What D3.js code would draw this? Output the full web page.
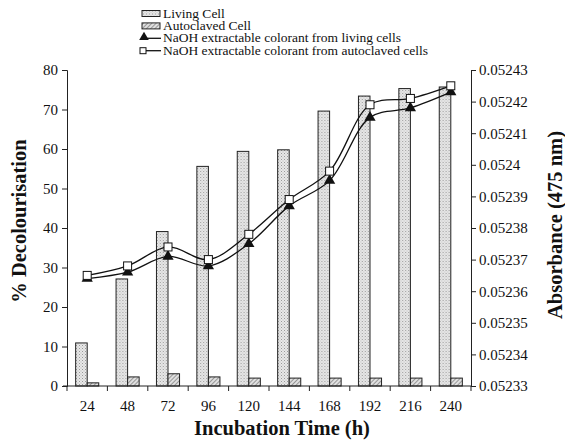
<!DOCTYPE html>
<html>
<head>
<meta charset="utf-8">
<script src="https://cdn.jsdelivr.net/npm/d3@7"></script>
<style>
  body { margin: 0; background: #fff; }
  text { font-family: "Liberation Serif", "DejaVu Serif", serif; fill: #111; }
</style>
</head>
<body>
<div id="chart"></div>
<script>
// chart data
var hours = ["24", "48", "72", "96", "120", "144", "168", "192", "216", "240"];
var livingCell = [10.9, 27.1, 39.1, 55.6, 59.4, 59.8, 69.6, 73.4, 75.3, 75.7];
var autoclavedCell = [0.8, 2.3, 3.1, 2.3, 2.0, 2.0, 2.0, 2.0, 2.0, 2.0];
var naohLiving = [0.052364, 0.052366, 0.052371, 0.052368, 0.052375, 0.052387, 0.052395, 0.052415, 0.052418, 0.052423];
var naohAutoclaved = [0.052365, 0.052368, 0.052374, 0.05237, 0.052378, 0.052389, 0.052398, 0.052419, 0.052421, 0.052425];
var leftTicks = [0, 10, 20, 30, 40, 50, 60, 70, 80];
var rightTicks = [0.05233, 0.05234, 0.05235, 0.05236, 0.05237, 0.05238, 0.05239, 0.0524, 0.05241, 0.05242, 0.05243];

var width = 565, height = 441;
// plot box (window.top is reserved, so no "top" here)
var plotLeft = 67, plotRight = 471, plotTop = 70, plotBottom = 386;

var svg = d3.select("#chart").append("svg")
  .attr("width", width)
  .attr("height", height);

// fill patterns for the bars
var defs = svg.append("defs");
var dots = defs.append("pattern")
  .attr("id", "dots")
  .attr("patternUnits", "userSpaceOnUse")
  .attr("width", 3).attr("height", 3);
dots.append("rect").attr("width", 3).attr("height", 3).attr("fill", "#e8e8e8");
dots.append("rect").attr("width", 1).attr("height", 1).attr("fill", "#9a9a9a");
dots.append("rect").attr("x", 1.5).attr("y", 1.5).attr("width", 1).attr("height", 1).attr("fill", "#b5b5b5");

var hatch = defs.append("pattern")
  .attr("id", "hatch")
  .attr("patternUnits", "userSpaceOnUse")
  .attr("width", 3).attr("height", 3)
  .attr("patternTransform", "rotate(45)");
hatch.append("rect").attr("width", 3).attr("height", 3).attr("fill", "#e0e0e0");
hatch.append("line").attr("x1", 0).attr("y1", 0).attr("x2", 0).attr("y2", 3)
  .attr("stroke", "#666").attr("stroke-width", 1.2);

// scales
var x = d3.scaleBand().domain(hours).range([plotLeft, plotRight]);
var xInner = d3.scaleBand().domain(["living", "auto"])
  .range([0, x.bandwidth()]).paddingInner(0).paddingOuter(0.75);
var yLeft = d3.scaleLinear().domain([0, 80]).range([plotBottom, plotTop]);
var yRight = d3.scaleLinear().domain([0.05233, 0.05243]).range([plotBottom, plotTop]);

// bars
var groups = svg.append("g").selectAll("g")
  .data(hours)
  .enter().append("g")
  .attr("transform", function(d) { return "translate(" + x(d) + ",0)"; });

groups.append("rect")
  .attr("x", xInner("living"))
  .attr("width", xInner.bandwidth())
  .attr("y", function(d, i) { return yLeft(livingCell[i]); })
  .attr("height", function(d, i) { return plotBottom - yLeft(livingCell[i]); })
  .attr("fill", "url(#dots)")
  .attr("stroke", "#222").attr("stroke-width", 1);

groups.append("rect")
  .attr("x", xInner("auto"))
  .attr("width", xInner.bandwidth())
  .attr("y", function(d, i) { return yLeft(autoclavedCell[i]); })
  .attr("height", function(d, i) { return plotBottom - yLeft(autoclavedCell[i]); })
  .attr("fill", "url(#hatch)")
  .attr("stroke", "#222").attr("stroke-width", 1);

// axes
var xAxis = d3.axisBottom(x).tickSize(0).tickPadding(14);
var gx = svg.append("g")
  .attr("transform", "translate(0," + plotBottom + ")")
  .call(xAxis);
gx.select(".domain").attr("stroke", "#222").attr("d", "M" + (plotLeft - 4) + ",0H" + plotRight);
gx.selectAll(".tick text").attr("font-size", 15);
// tick marks sit between the categories
gx.selectAll(".sep")
  .data(d3.range(hours.length + 1))
  .enter().append("line")
  .attr("x1", function(i) { return plotLeft + i * x.step(); })
  .attr("x2", function(i) { return plotLeft + i * x.step(); })
  .attr("y1", 0).attr("y2", 5)
  .attr("stroke", "#222");

var gl = svg.append("g")
  .attr("transform", "translate(" + plotLeft + ",0)")
  .call(d3.axisLeft(yLeft).tickValues(leftTicks).tickSize(5).tickPadding(4));
gl.select(".domain").attr("stroke", "#222");
gl.selectAll(".tick line").attr("stroke", "#222");
gl.selectAll(".tick text").attr("font-size", 15);

var gr = svg.append("g")
  .attr("transform", "translate(" + plotRight + ",0)")
  .call(d3.axisRight(yRight).tickValues(rightTicks).tickSize(5).tickPadding(3)
    .tickFormat(function(d) { return String(+d.toFixed(5)); }));
gr.select(".domain").attr("stroke", "#222");
gr.selectAll(".tick line").attr("stroke", "#222");
gr.selectAll(".tick text").attr("font-size", 15);

// smoothed lines
var cx = function(d, i) { return x(hours[i]) + x.bandwidth() / 2; };
var line = d3.line()
  .x(cx)
  .y(function(d) { return yRight(d); })
  .curve(d3.curveCatmullRom.alpha(0.5));

svg.append("path").datum(naohLiving)
  .attr("d", line).attr("fill", "none").attr("stroke", "#111").attr("stroke-width", 1.3);
svg.append("path").datum(naohAutoclaved)
  .attr("d", line).attr("fill", "none").attr("stroke", "#111").attr("stroke-width", 1.3);

var tri = d3.symbol().type(d3.symbolTriangle).size(55);
svg.append("g").selectAll("path")
  .data(naohLiving).enter().append("path")
  .attr("d", tri)
  .attr("transform", function(d, i) { return "translate(" + cx(d, i) + "," + yRight(d) + ")"; })
  .attr("fill", "#111");

svg.append("g").selectAll("rect")
  .data(naohAutoclaved).enter().append("rect")
  .attr("x", function(d, i) { return cx(d, i) - 4; })
  .attr("y", function(d) { return yRight(d) - 4; })
  .attr("width", 8).attr("height", 8)
  .attr("fill", "#fff").attr("stroke", "#111").attr("stroke-width", 1);

// axis titles
svg.append("text")
  .attr("x", 282).attr("y", 435)
  .attr("text-anchor", "middle")
  .attr("font-size", 20.5).attr("font-weight", "bold")
  .text("Incubation Time (h)");

svg.append("text")
  .attr("transform", "translate(26,221)rotate(-90)")
  .attr("text-anchor", "middle")
  .attr("font-size", 20.5).attr("font-weight", "bold")
  .text("% Decolourisation");

svg.append("text")
  .attr("transform", "translate(562,225)rotate(-90)")
  .attr("text-anchor", "middle")
  .attr("font-size", 20.5).attr("font-weight", "bold")
  .text("Absorbance (475 nm)");

// legend
var legendItems = [
  { label: "Living Cell", kind: "bar", fill: "url(#dots)" },
  { label: "Autoclaved Cell", kind: "bar", fill: "url(#hatch)" },
  { label: "NaOH extractable colorant from living cells", kind: "tri" },
  { label: "NaOH extractable colorant from autoclaved cells", kind: "sq" }
];
var legend = svg.append("g").attr("transform", "translate(140,0)");
var rows = legend.selectAll("g").data(legendItems).enter().append("g")
  .attr("transform", function(d, i) { return "translate(0," + (13.5 + i * 12.4) + ")"; });

rows.filter(function(d) { return d.kind === "bar"; }).append("rect")
  .attr("x", 2).attr("y", -3).attr("width", 18).attr("height", 6)
  .attr("fill", function(d) { return d.fill; })
  .attr("stroke", "#222").attr("stroke-width", 1);
rows.filter(function(d) { return d.kind !== "bar"; }).append("line")
  .attr("x1", 2).attr("x2", 21).attr("y1", 0).attr("y2", 0)
  .attr("stroke", "#111").attr("stroke-width", 1.3);
rows.filter(function(d) { return d.kind === "tri"; }).append("path")
  .attr("d", d3.symbol().type(d3.symbolTriangle).size(40))
  .attr("transform", "translate(4,-1)").attr("fill", "#111");
rows.filter(function(d) { return d.kind === "sq"; }).append("rect")
  .attr("x", 0).attr("y", -3).attr("width", 6).attr("height", 6)
  .attr("fill", "#fff").attr("stroke", "#111");
rows.append("text")
  .attr("x", 23).attr("y", 4)
  .attr("font-size", 13.5)
  .text(function(d) { return d.label; });
</script>
</body>
</html>
